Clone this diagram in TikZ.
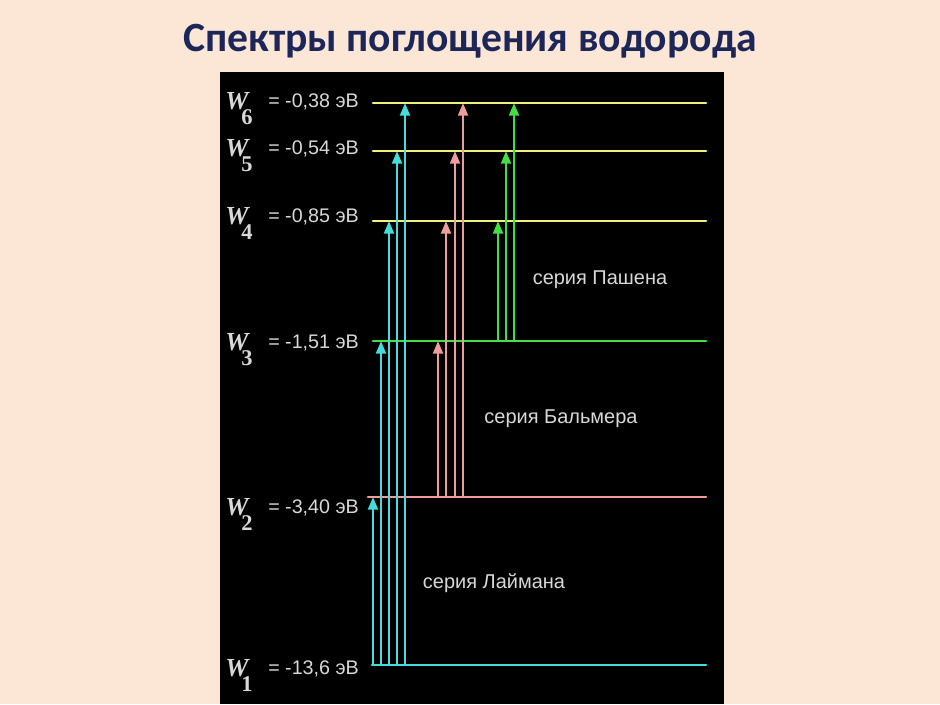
\documentclass[tikz,border=0pt]{standalone}
\usepackage{fontspec}
\setmainfont{Liberation Sans}
\newfontfamily\titlefont{Carlito}
\newfontfamily\seriffont{Liberation Serif}
\usetikzlibrary{arrows.meta}

\definecolor{peach}{HTML}{FCE6D6}
\definecolor{navy}{HTML}{1C2658}
\definecolor{lvyellow}{HTML}{F0F080}
\definecolor{lvgreen}{HTML}{44DD44}
\definecolor{lvpink}{HTML}{EE9C9C}
\definecolor{lvcyan}{HTML}{44DDDD}
\definecolor{txtgray}{HTML}{D8D8D8}

% subscript of a level symbol
\newcommand{\lvsub}[1]{\kern-5pt\raisebox{-11.3pt}{\upshape\fontsize{16}{16}\selectfont #1}}

\begin{document}
\begin{tikzpicture}[x=0.025cm, y=-0.025cm,
  levelline/.style={line width=2.1pt, line cap=round},
  jump/.style={line width=1.8pt, -{Triangle[length=9pt,width=7pt]}},
  vlab/.style={font=\fontsize{14}{14}\selectfont, text=txtgray, inner sep=0pt},
  wsym/.style={font=\seriffont\bfseries\itshape\fontsize{18.5}{18.5}\selectfont, text=txtgray, inner sep=0pt},
  serlab/.style={font=\fontsize{14.2}{14.2}\selectfont, text=txtgray, inner sep=0pt}]

% ── Background ──
\fill[peach] (0,0) rectangle (940,704);
\fill[black] (220,72) rectangle (724,704);

% ── Title ──
\node[font=\titlefont\bfseries\fontsize{29.6}{29.6}\selectfont, text=navy] (title) at (470,41) {Спектры поглощения водорода};

% ── Energy levels ──
% n / line y / label baseline / value / colour / start x
\foreach \n/\y/\b/\v/\c/\xs in {6/103/107/{-0,38}/lvyellow/373, 5/151/154/{-0,54}/lvyellow/373,
    4/221/222/{-0,85}/lvyellow/373, 3/341/348/{-1,51}/lvgreen/373,
    2/497/513/{-3,40}/lvpink/368, 1/665/674/{-13,6}/lvcyan/372} {
  \coordinate (L\n) at (\xs,\y);
  \coordinate (R\n) at (706,\y);
  \draw[levelline, \c] (L\n) -- (R\n);
  \node[wsym, anchor=base west] (w\n) at (225,\b+2) {W\lvsub{\n}};
  \node[vlab, anchor=base west] (v\n) at (268,\b) {= \v\ эВ};
}

% ── Lyman series (from W1) ──
\foreach \x/\t [count=\i] in {373/497, 381/341, 389/221, 397/151, 405/103} {
  \coordinate (lyF\i) at (\x,665);
  \coordinate (lyT\i) at (\x,\t);
  \draw[jump, lvcyan] (lyF\i) -- (lyT\i);
}

% ── Balmer series (from W2) ──
\foreach \x/\t [count=\i] in {438/341, 446/221, 455/151, 463/103} {
  \coordinate (baF\i) at (\x,497);
  \coordinate (baT\i) at (\x,\t);
  \draw[jump, lvpink] (baF\i) -- (baT\i);
}

% ── Paschen series (from W3) ──
\foreach \x/\t [count=\i] in {498/221, 506/151, 514/103} {
  \coordinate (paF\i) at (\x,341);
  \coordinate (paT\i) at (\x,\t);
  \draw[jump, lvgreen] (paF\i) -- (paT\i);
}

% Series names
\node[serlab] (paschen) at (600,280) {серия Пашена};
\node[serlab] (balmer) at (561,419) {серия Бальмера};
\node[serlab] (lyman) at (494,583) {серия Лаймана};

\end{tikzpicture}
\end{document}
